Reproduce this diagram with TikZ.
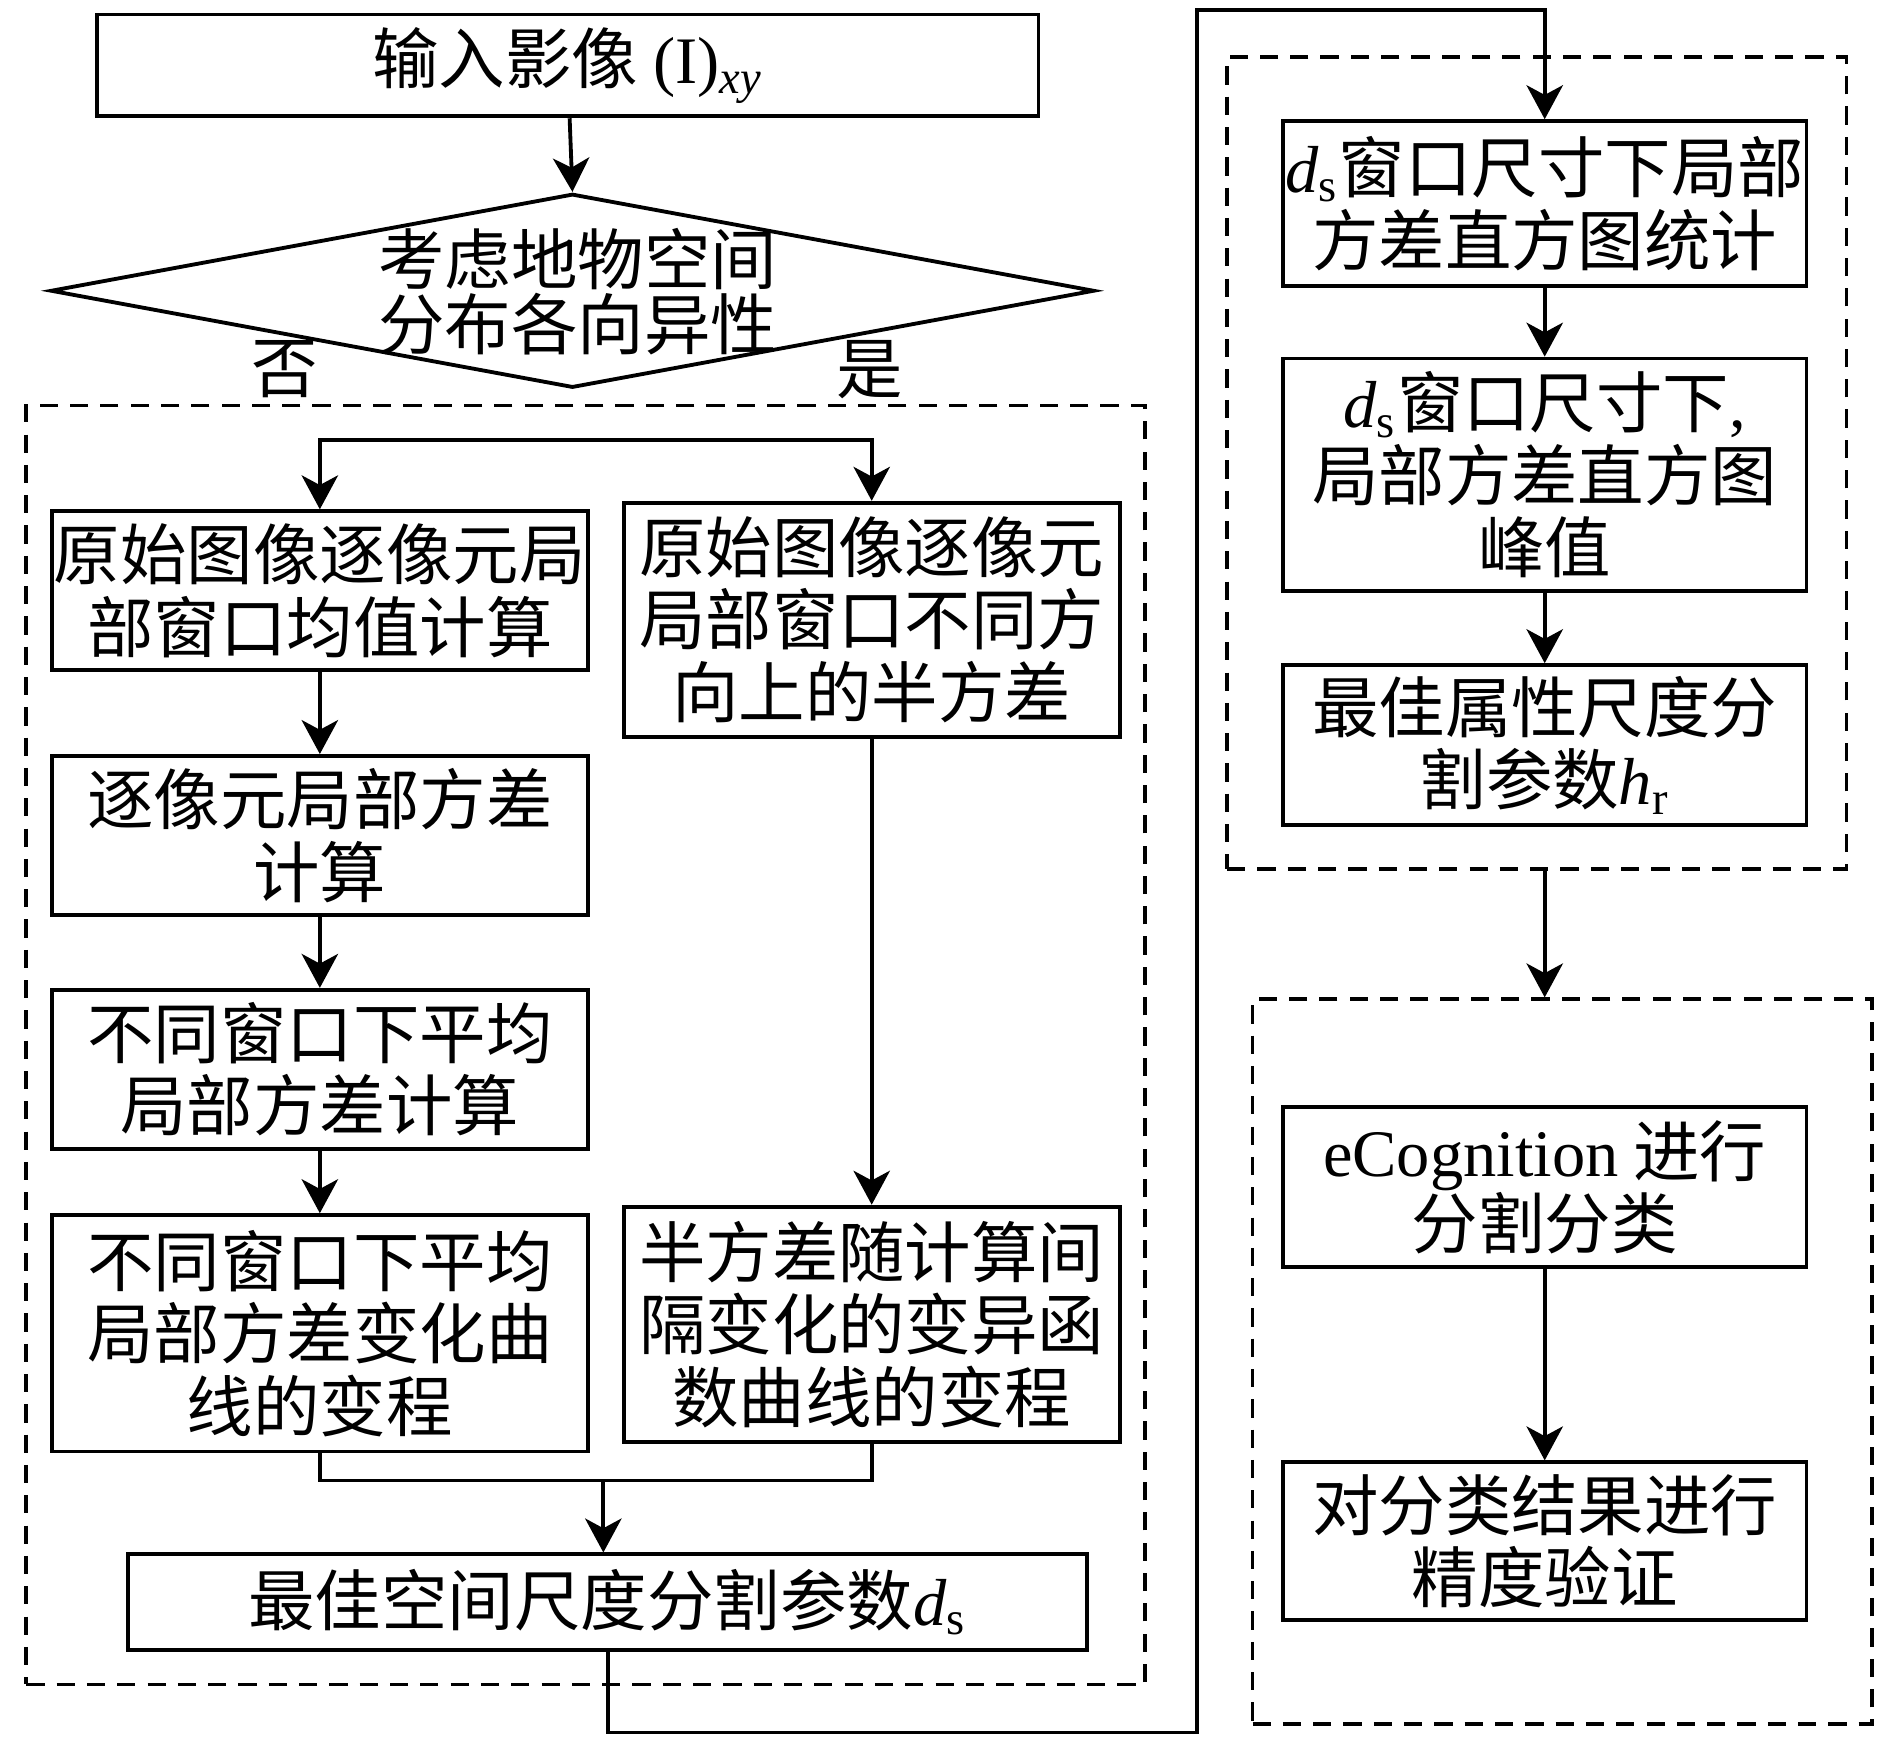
\documentclass[tikz,border=0pt]{standalone}
\usepackage{fontspec}
\setmainfont{Noto Sans CJK SC}
\newfontfamily\tnr{Liberation Serif}
\usetikzlibrary{arrows.meta,shapes.geometric,calc}
\newcommand{\dsub}{{\tnr\textit{d}\textsubscript{s}}}
\newcommand{\hsub}{{\tnr\textit{h}\textsubscript{r}}}

\begin{document}
\begin{tikzpicture}[x=0.01cm,y=-0.01cm,
  >={Stealth[length=0.28cm,width=0.3cm,inset=0.08cm]},
  every node/.style={font=\fontsize{15.6}{17}\selectfont},
  box/.style={draw,line width=0.9pt,align=center,inner sep=0pt,minimum width=4.42cm},
  frame/.style={draw,line width=0.9pt,dash pattern=on 0.15cm off 0.1cm,inner sep=0pt},
  every path/.style={line width=0.9pt}]
  \useasboundingbox (0,0) rectangle (1560,1433);
  \node[frame,minimum width=9.23cm,minimum height=10.55cm] (fl) at (483.5,862.5) {};
  \node[frame,minimum width=5.11cm,minimum height=6.70cm] (fr1) at (1268.5,382) {};
  \node[frame,minimum width=5.11cm,minimum height=5.98cm] (fr2) at (1289.5,1124) {};
  \node[box,minimum width=7.77cm,minimum height=0.84cm] (in) at (468.5,54) {输入影像 {\tnr (I)\textsubscript{\textit{xy}}}};
  \node[draw,diamond,line width=0.9pt,inner sep=0pt,minimum width=8.61cm,minimum height=1.6cm] (dec) at (472.5,240) {};
  \node[align=center,font=\fontsize{15.6}{15.2}\selectfont] (dectxt) at (477,241) {考虑地物空间\\分布各向异性};
  \node (no) at (235,305) {否};
  \node (yes) at (718,305) {是};
  \node[box,minimum height=1.31cm] (m1) at (264,487.5) {原始图像逐像元局\\部窗口均值计算};
  \node[box,minimum height=1.31cm] (m2) at (264,689.5) {逐像元局部方差\\计算};
  \node[box,minimum height=1.31cm] (m3) at (264,882.5) {不同窗口下平均\\局部方差计算};
  \node[box,minimum height=1.95cm] (m4) at (264,1100.5) {不同窗口下平均\\局部方差变化曲\\线的变程};
  \node[box,minimum width=4.09cm,minimum height=1.93cm] (v1) at (719.5,511.5) {原始图像逐像元\\局部窗口不同方\\向上的半方差};
  \node[box,minimum width=4.09cm,minimum height=1.94cm] (v2) at (719.5,1093) {半方差随计算间\\隔变化的变异函\\数曲线的变程};
  \node[box,minimum width=7.91cm,minimum height=0.79cm] (ds) at (501.5,1322.5) {最佳空间尺度分割参数\dsub};
  \node[box,minimum width=4.32cm,minimum height=1.36cm] (h1) at (1275,168) {\dsub 窗口尺寸下局部\\方差直方图统计};
  \node[box,minimum width=4.32cm,minimum height=1.92cm] (h2) at (1275,392) {\dsub 窗口尺寸下{\tnr ,}\\局部方差直方图\\峰值};
  \node[box,minimum width=4.32cm,minimum height=1.32cm] (h3) at (1275,615) {最佳属性尺度分\\割参数\hsub};
  \node[box,minimum width=4.32cm,minimum height=1.32cm] (c1) at (1275,980) {{\tnr eCognition} 进行\\分割分类};
  \node[box,minimum width=4.32cm,minimum height=1.30cm] (c2) at (1275,1272) {对分类结果进行\\精度验证};
  \coordinate (br) at (490,363);
  \coordinate (mg) at (498,1222);
  \coordinate (lo) at (988,1430);
  \coordinate (hi) at (988,8);
  \draw[->] (in) -- (dec.north);
  \draw[<->] (m1.north) |- (br) -| (v1.north);
  \draw[->] (m1) edge (m2) (m2) edge (m3) (m3) edge (m4);
  \draw[->] (v1) -- (v2);
  \draw (m4.south) |- (mg) -| (v2.south);
  \draw[->] (mg) -- (mg |- ds.north);
  \draw[->] (ds.south) |- (lo) -- (hi) -| (h1.north);
  \draw[->] (h1) edge (h2) (h2) edge (h3);
  \draw[->] (h3 |- fr1.south) -- (h3 |- fr2.north);
  \draw[->] (c1) -- (c2);
\end{tikzpicture}
\end{document}
